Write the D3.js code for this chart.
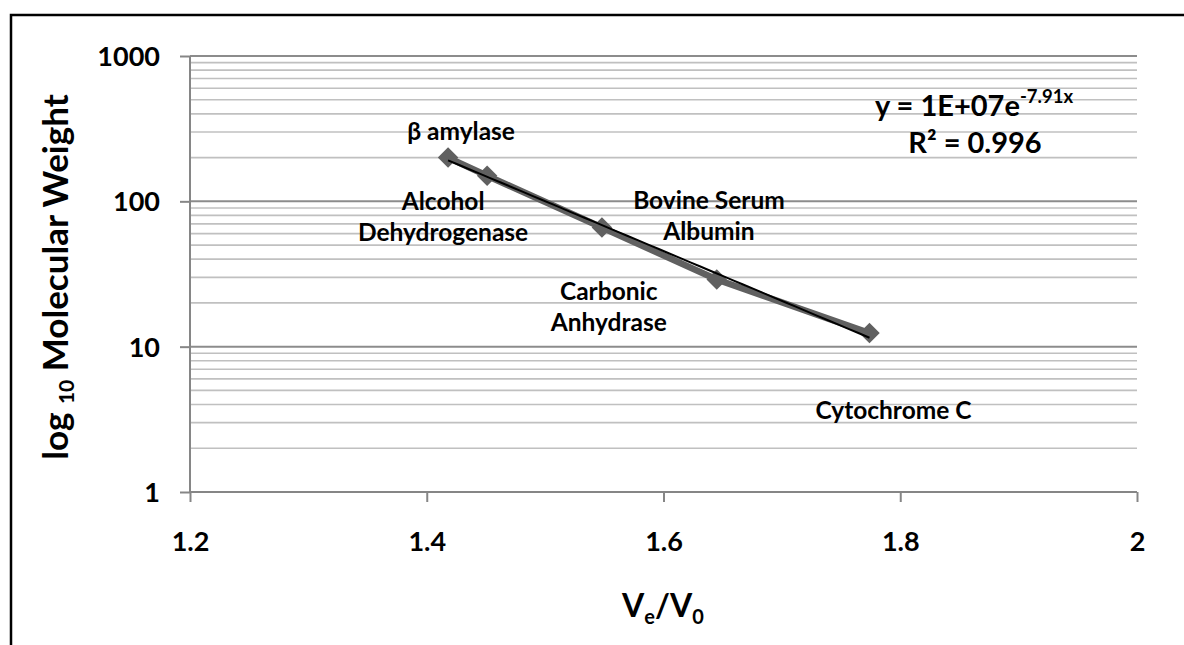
<!DOCTYPE html>
<html>
<head>
<meta charset="utf-8">
<script src="https://cdn.jsdelivr.net/npm/d3@7"></script>
<style>
  html, body { margin: 0; padding: 0; background: #fff; }
  svg { display: block; }
  text { font-family: Lato, "Open Sans", "Liberation Sans", sans-serif; font-weight: bold; fill: #000; }
</style>
</head>
<body>
<svg id="chart" width="1184" height="645"></svg>
<script>
// Protein standards: elution ratio Ve/V0 against molecular weight (kDa)
const proteins = ["β amylase", "Alcohol Dehydrogenase", "Bovine Serum Albumin", "Carbonic Anhydrase", "Cytochrome C"];
const elutionRatio = [1.418, 1.451, 1.548, 1.645, 1.774];
const molecularWeight = [200, 150, 66, 29, 12.4];

// Label text, one entry per line
const labelLines = [["β amylase"], ["Alcohol", "Dehydrogenase"], ["Bovine Serum", "Albumin"], ["Carbonic", "Anhydrase"], ["Cytochrome C"]];

const xTicks = [1.2, 1.4, 1.6, 1.8, 2];
const yTicks = [1, 10, 100, 1000];
const yTickLabels = ["1", "10", "100", "1000"];

// Layout: pixel offset of each label's first line from its marker
const labelOffsets = [[13, -26], [-44, 26], [107, -27], [-108, 12], [24, 77]];

const svg = d3.select("#chart");
const W = 1184, H = 645;
const plot = { left: 190, right: 1137, top: 56, bottom: 492 };

const x = d3.scaleLinear().domain([1.2, 2]).range([plot.left, plot.right]);
const y = d3.scaleLog().domain([1, 1000]).range([plot.bottom, plot.top]);

// Frame around the chart
svg.append("path")
  .attr("d", `M11,${H} L11,15 L${W},15`)
  .attr("fill", "none").attr("stroke", "#000").attr("stroke-width", 2.5);

// Minor gridlines (2..9 within each decade)
const minor = [];
for (let d = 1; d < 1000; d *= 10) for (let m = 2; m <= 9; m++) minor.push(d * m);
svg.append("g").selectAll("line").data(minor).join("line")
  .attr("x1", plot.left).attr("x2", plot.right)
  .attr("y1", v => y(v)).attr("y2", v => y(v))
  .attr("stroke", "#c0c0c0").attr("stroke-width", 1.6);

// Major gridlines
svg.append("g").selectAll("line").data(yTicks.filter(v => v > 1)).join("line")
  .attr("x1", plot.left).attr("x2", plot.right)
  .attr("y1", v => y(v)).attr("y2", v => y(v))
  .attr("stroke", "#8c8c8c").attr("stroke-width", 2);

// Y axis
const yAxis = d3.axisLeft(y).tickValues(yTicks).tickFormat((d, i) => yTickLabels[i]).tickSize(10).tickPadding(20);
const gy = svg.append("g").attr("transform", `translate(${plot.left},0)`).call(yAxis);
gy.select(".domain").attr("stroke", "#868686").attr("stroke-width", 2).attr("d", `M0,${plot.top}V${plot.bottom}`);
gy.selectAll(".tick line").attr("stroke", "#868686").attr("stroke-width", 2);
gy.selectAll(".tick text").attr("font-size", 27).attr("dy", "0.35em");

// X axis
const xAxis = d3.axisBottom(x).tickValues(xTicks).tickFormat(d3.format("")).tickSize(10).tickPadding(30);
const gx = svg.append("g").attr("transform", `translate(0,${plot.bottom})`).call(xAxis);
gx.select(".domain").attr("stroke", "#868686").attr("stroke-width", 2).attr("d", `M${plot.left},0H${plot.right}`);
gx.selectAll(".tick line").attr("stroke", "#868686").attr("stroke-width", 2);
gx.selectAll(".tick text").attr("font-size", 27);
svg.selectAll(".tick text").attr("fill", "#000");
svg.selectAll("g").attr("font-family", null);

// Data series
const pts = elutionRatio.map((v, i) => [v, molecularWeight[i]]);
svg.append("path")
  .datum(pts)
  .attr("d", d3.line().x(d => x(d[0])).y(d => y(d[1])))
  .attr("fill", "none").attr("stroke", "#606060").attr("stroke-width", 6.5).attr("stroke-linejoin", "round");

svg.append("g").selectAll("path").data(pts).join("path")
  .attr("transform", d => `translate(${x(d[0])},${y(d[1])}) rotate(45)`)
  .attr("d", d3.symbol(d3.symbolSquare, 210))
  .attr("fill", "#606060");

// Exponential trendline fitted on ln(MW)
const n = pts.length;
const mx = d3.mean(pts, d => d[0]);
const my = d3.mean(pts, d => Math.log(d[1]));
const b = d3.sum(pts, d => (d[0] - mx) * (Math.log(d[1]) - my)) / d3.sum(pts, d => (d[0] - mx) ** 2);
const a = Math.exp(my - b * mx);
const xs = d3.range(0, 41).map(i => elutionRatio[0] + (elutionRatio[n - 1] - elutionRatio[0]) * i / 40);
svg.append("path")
  .datum(xs)
  .attr("d", d3.line().x(v => x(v)).y(v => y(a * Math.exp(b * v))))
  .attr("fill", "none").attr("stroke", "#000").attr("stroke-width", 2);

// Protein labels
const lbl = svg.append("g").attr("font-size", 24.5).attr("text-anchor", "middle");
labelLines.forEach((lines, i) => {
  const cx = x(elutionRatio[i]) + labelOffsets[i][0];
  const cy = y(molecularWeight[i]) + labelOffsets[i][1];
  const t = lbl.append("text").attr("x", cx).attr("y", cy);
  lines.forEach((s, k) => {
    t.append("tspan").attr("x", cx).attr("dy", k === 0 ? "0.35em" : 31).text(s);
  });
});

// Equation and R²
const eq = svg.append("text").attr("x", 875).attr("y", 116).attr("font-size", 29);
eq.append("tspan").text("y = 1E+07e");
eq.append("tspan").attr("font-size", 18.5).attr("dy", -13).text("-7.91x");
svg.append("text").attr("x", 975).attr("y", 153).attr("font-size", 29).attr("text-anchor", "middle")
  .text("R² = 0.996");

// Axis titles
const xt = svg.append("text").attr("x", 663).attr("y", 617).attr("font-size", 32).attr("text-anchor", "middle");
xt.append("tspan").text("V");
xt.append("tspan").attr("font-size", 20).attr("dy", 7).text("e");
xt.append("tspan").attr("dy", -7).text("/V");
xt.append("tspan").attr("font-size", 20).attr("dy", 7).text("0");

const yt = svg.append("text").attr("transform", "translate(68,277) rotate(-90)").attr("font-size", 35).attr("text-anchor", "middle");
yt.append("tspan").text("log ");
yt.append("tspan").attr("font-size", 21).attr("dy", 6).text("10");
yt.append("tspan").attr("dy", -6).text(" Molecular Weight");
</script>
</body>
</html>
